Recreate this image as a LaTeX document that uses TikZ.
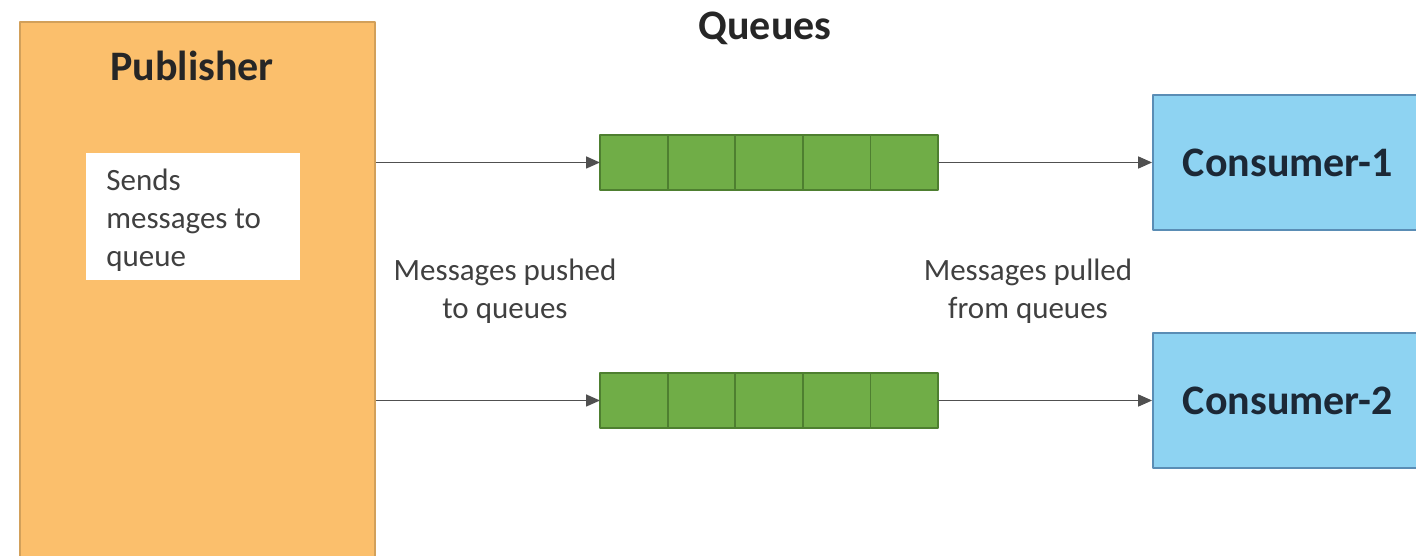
\documentclass[tikz,border=0pt]{standalone}
\usepackage{fontspec}
\setmainfont{Carlito}
\usepackage{tikz}
\usetikzlibrary{arrows.meta,shapes}
\definecolor{pubfill}{HTML}{FBBF6C}
\definecolor{publine}{HTML}{D2A05A}
\definecolor{cellfill}{HTML}{70AD47}
\definecolor{cellline}{HTML}{4E7F30}
\definecolor{consfill}{HTML}{8ED3F2}
\definecolor{consline}{HTML}{5A8DB5}
\definecolor{constext}{HTML}{1C2836}
\definecolor{titletext}{HTML}{262626}
\definecolor{msgtext}{HTML}{404040}
\definecolor{linkcol}{HTML}{505050}

\begin{document}
\begin{tikzpicture}[>={Triangle[length=7bp,width=6bp]},line join=bevel,
  pubbox/.style={draw=publine,fill=pubfill,line width=0.8bp,minimum width=177.5bp,minimum height=277bp,inner sep=0},
  cell/.style={draw=cellline,fill=cellfill,line width=0.9bp,minimum width=33.8bp,minimum height=27.5bp,inner sep=0,outer sep=0},
  consbox/.style={draw=consline,fill=consfill,line width=0.9bp,minimum width=135bp,minimum height=67.5bp,inner sep=0,font=\fontsize{21bp}{25bp}\selectfont\bfseries,text=constext},
  title/.style={font=\fontsize{21bp}{25bp}\selectfont\bfseries,text=titletext},
  msg/.style={font=\fontsize{15.5bp}{19bp}\selectfont,text=msgtext,align=center,inner sep=0},
  link/.style={->,draw=linkcol,fill=linkcol,line width=0.8bp}]
\useasboundingbox (0,0) rectangle (708bp,278bp);
\clip (0,0) rectangle (708bp,278bp);
%%
\node (pub) at (98.75bp,128.5bp) [pubbox] {};
  \node (pubtitle) at (96bp,245bp) [title] {Publisher};
  \node (note) at (96.5bp,169.75bp) [fill=white,minimum width=107bp,minimum height=63.5bp,inner sep=0] {};
  \node (notetxt) at (53bp,168bp) [anchor=west,msg,align=left] {Sends\\messages to\\queue};
  \node (qtitle) at (382.5bp,264bp) [title] {Queues};
  \node (qa1) at (316.9bp,196.75bp) [cell] {};
  \node (qa2) at (350.7bp,196.75bp) [cell] {};
  \node (qa3) at (384.5bp,196.75bp) [cell] {};
  \node (qa4) at (418.3bp,196.75bp) [cell] {};
  \node (qa5) at (452.1bp,196.75bp) [cell] {};
  \node (qb1) at (316.9bp,77.75bp) [cell] {};
  \node (qb2) at (350.7bp,77.75bp) [cell] {};
  \node (qb3) at (384.5bp,77.75bp) [cell] {};
  \node (qb4) at (418.3bp,77.75bp) [cell] {};
  \node (qb5) at (452.1bp,77.75bp) [cell] {};
  \node (cons1) at (644bp,196.75bp) [consbox] {Consumer-1};
  \node (cons2) at (644bp,77.75bp) [consbox] {Consumer-2};
  \node (pushed) at (252.5bp,132.5bp) [msg] {Messages pushed\\to queues};
  \node (pulled) at (514bp,132.5bp) [msg] {Messages pulled\\from queues};
  \draw [link] (pub.east |- qa1.west) -- (qa1.west);
  \draw [link] (pub.east |- qb1.west) -- (qb1.west);
  \draw [link] (qa5.east) -- (cons1.west);
  \draw [link] (qb5.east) -- (cons2.west);
%
\end{tikzpicture}
\end{document}
